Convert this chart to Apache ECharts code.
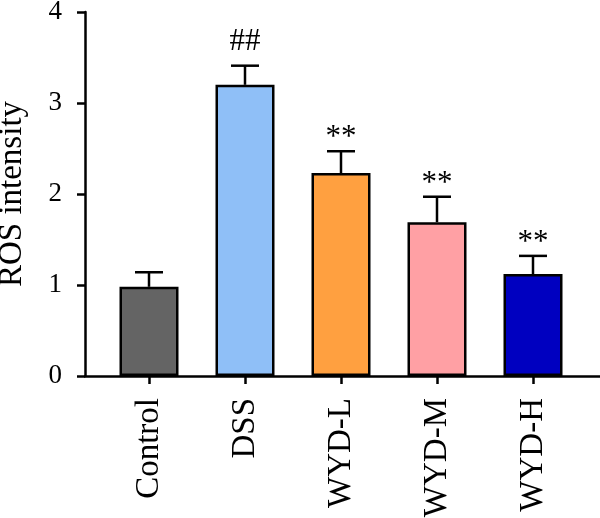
<!DOCTYPE html>
<html>
<head>
<meta charset="utf-8">
<script src="https://cdn.jsdelivr.net/npm/echarts@6/dist/echarts.min.js"></script>
<style>
  html, body { margin: 0; padding: 0; background: #fff; }
  #chart { width: 600px; height: 518px; }
</style>
</head>
<body>
<div id="chart"></div>
<script>
(function () {
  let myChart = echarts.init(document.getElementById('chart'));

  let groups = ['Control', 'DSS', 'WYD-L', 'WYD-M', 'WYD-H'];
  let means = [0.98, 3.2, 2.23, 1.69, 1.12];
  let errors = [0.16, 0.21, 0.24, 0.28, 0.2];
  let marks = ['', '##', '**', '**', '**'];
  let colorList = ['#646464', '#8fbff7', '#ffa040', '#ffa0a4', '#0000c0'];
  let yTicks = [0, 1, 2, 3, 4];

  let font = '"Liberation Serif", serif';

  // 误差线 + 显著性标记
  let errData = groups.map((g, i) => [i, means[i], means[i] + errors[i], marks[i]]);

  function renderErr(params, api) {
    let base = api.coord([api.value(0), api.value(1)]);
    let top = api.coord([api.value(0), api.value(2)]);
    let half = 14;
    let mark = errData[params.dataIndex][3];
    let lift = mark === '##' ? 24 : 13; // 标记距误差线顶端
    let lineStyle = { stroke: '#000', lineWidth: 2.5 };
    return {
      type: 'group',
      children: [
        { type: 'line', shape: { x1: base[0], y1: base[1], x2: top[0], y2: top[1] }, style: lineStyle },
        { type: 'line', shape: { x1: top[0] - half, y1: top[1], x2: top[0] + half, y2: top[1] }, style: lineStyle },
        {
          type: 'text',
          style: {
            text: mark,
            x: top[0],
            y: top[1] - lift,
            align: 'center',
            verticalAlign: 'middle',
            fill: '#000',
            fontSize: 31,
            fontFamily: font
          }
        }
      ]
    };
  }

  let option = {
    animation: false,
    grid: [
      { left: 101, width: 480, top: 12, bottom: 142, containLabel: false, outerBoundsMode: 'none' },
      { left: 85, right: 0, top: 12, bottom: 142, containLabel: false, outerBoundsMode: 'none' }
    ],
    xAxis: [
      {
        type: 'category',
        gridIndex: 0,
        data: groups,
        axisLine: { show: false },
        axisTick: { show: true, alignWithLabel: true, length: 8, lineStyle: { color: '#000', width: 2.5 } },
        axisLabel: { rotate: 90, margin: 22, color: '#000', fontSize: 33, fontFamily: font }
      },
      {
        type: 'category',
        gridIndex: 1,
        data: [''],
        axisLine: { show: true, lineStyle: { color: '#000', width: 2.5 } },
        axisTick: { show: false },
        axisLabel: { show: false }
      }
    ],
    yAxis: [
      {
        type: 'value',
        gridIndex: 0,
        min: yTicks[0],
        max: yTicks[yTicks.length - 1],
        interval: 1,
        show: false
      },
      {
        type: 'value',
        gridIndex: 1,
        min: yTicks[0],
        max: yTicks[yTicks.length - 1],
        interval: 1,
        name: 'ROS intensity',
        nameLocation: 'middle',
        nameGap: 56,
        nameTextStyle: { color: '#000', fontSize: 33, fontFamily: font },
        axisLine: { show: true, lineStyle: { color: '#000', width: 2.5 } },
        axisTick: { show: true, length: 8, lineStyle: { color: '#000', width: 2.5 } },
        axisLabel: { margin: 23, color: '#000', fontSize: 27, fontFamily: font },
        splitLine: { show: false }
      }
    ],
    series: [
      {
        type: 'bar',
        xAxisIndex: 0,
        yAxisIndex: 0,
        barWidth: 59,
        data: means.map((v, i) => ({
          value: v,
          itemStyle: { color: colorList[i], borderColor: '#000', borderWidth: 2.5 }
        }))
      },
      {
        type: 'custom',
        xAxisIndex: 0,
        yAxisIndex: 0,
        renderItem: renderErr,
        data: errData,
        z: 3
      }
    ]
  };
  myChart.setOption(option);
})();
</script>
</body>
</html>
